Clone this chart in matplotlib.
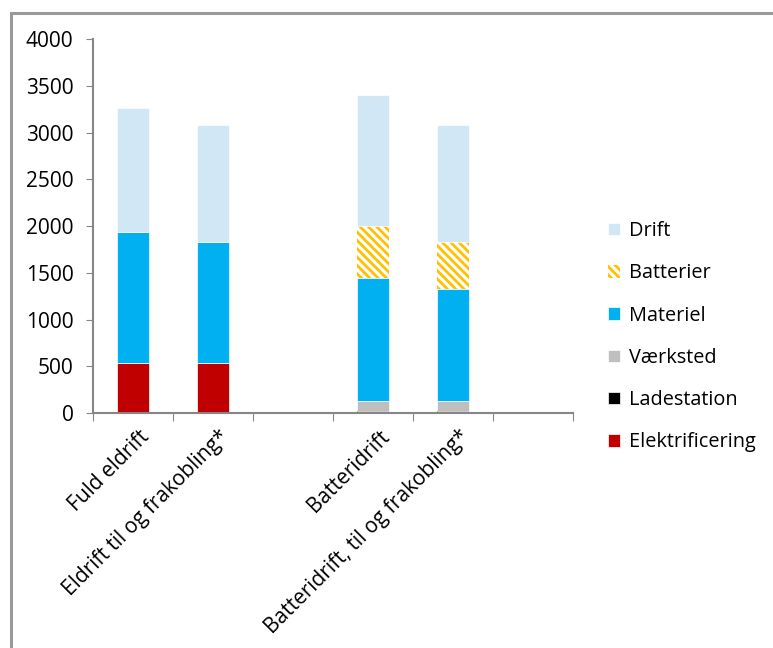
import numpy as np
import matplotlib
matplotlib.use("Agg")
from matplotlib import pyplot as plt
from matplotlib.patches import Patch, Rectangle

plt.rcParams["font.family"] = ["Open Sans", "DejaVu Sans"]
plt.rcParams["hatch.linewidth"] = 2.0

categories = ["Fuld eldrift", "Eldrift til og frakobling*", "",
              "Batteridrift", "Batteridrift, til og frakobling*", ""]

# stacked from the bottom up
elektrificering = [540, 540, 0, 0, 0, 0]
ladestation = [0, 0, 0, 20, 20, 0]
vaerksted = [0, 0, 0, 110, 110, 0]
materiel = [1400, 1285, 0, 1320, 1200, 0]
batterier = [0, 0, 0, 550, 495, 0]
drift = [1320, 1255, 0, 1400, 1255, 0]

series = [
    ("Elektrificering", elektrificering, "#C00000", None),
    ("Ladestation", ladestation, "#000000", None),
    ("Værksted", vaerksted, "#BFBFBF", None),
    ("Materiel", materiel, "#00B0F0", None),
    ("Batterier", batterier, "#FFC000", "\\\\\\\\"),
    ("Drift", drift, "#D2E7F6", None),
]

fig = plt.figure(figsize=(7.73, 6.48), dpi=100)
ax = fig.add_axes([0.1203, 0.3627, 0.6210, 0.5767])

x = np.arange(len(categories))
bottom = np.zeros(len(categories))
handles = []
for name, vals, color, hatch in series:
    vals = np.array(vals, dtype=float)
    if hatch:
        ax.bar(x, vals, 0.41, bottom=bottom, facecolor="white", edgecolor=color,
               hatch=hatch, linewidth=0)
        handles.append(Patch(facecolor="white", edgecolor=color, hatch=hatch,
                             linewidth=0, label=name))
    else:
        lw = 0 if name == "Ladestation" else 0.5
        ax.bar(x, vals, 0.41, bottom=bottom, color=color, edgecolor="white",
               linewidth=lw)
        handles.append(Patch(facecolor=color, edgecolor="white", linewidth=0.5,
                             label=name))
    bottom += vals

ax.set_xlim(-0.5, len(categories) - 0.5)
ax.set_ylim(0, 4000)
ax.set_yticks(np.arange(0, 4001, 500))
ax.tick_params(axis="y", labelsize=15, length=5, color="#868686", pad=9)

# ticks sit between the categories
ax.set_xticks(np.arange(-0.5, len(categories), 1.0))
ax.set_xticklabels([])
ax.tick_params(axis="x", length=6, color="#868686")
for i, lab in enumerate(categories):
    if lab:
        ax.text(i + 0.07, -0.035, lab, transform=ax.get_xaxis_transform(),
                rotation=45, ha="right", va="top", rotation_mode="anchor",
                fontsize=15)

for s in ["top", "right"]:
    ax.spines[s].set_visible(False)
for s in ["left", "bottom"]:
    ax.spines[s].set_color("#868686")
    ax.spines[s].set_linewidth(1.5)

fig.legend(handles=handles[::-1], loc="upper left",
           bbox_to_anchor=(0.776, 0.671), frameon=False, fontsize=14.3,
           handlelength=0.6, handleheight=0.6, handletextpad=0.45,
           labelspacing=1.12, borderaxespad=0)

# frame around the figure
fig.patches.append(Rectangle((11 / 773, -0.1), 1.2, 1.1 - 13 / 648,
                             transform=fig.transFigure, fill=False,
                             edgecolor="#9a9a9a", linewidth=2.2))

fig.savefig("out.png", dpi=100)
